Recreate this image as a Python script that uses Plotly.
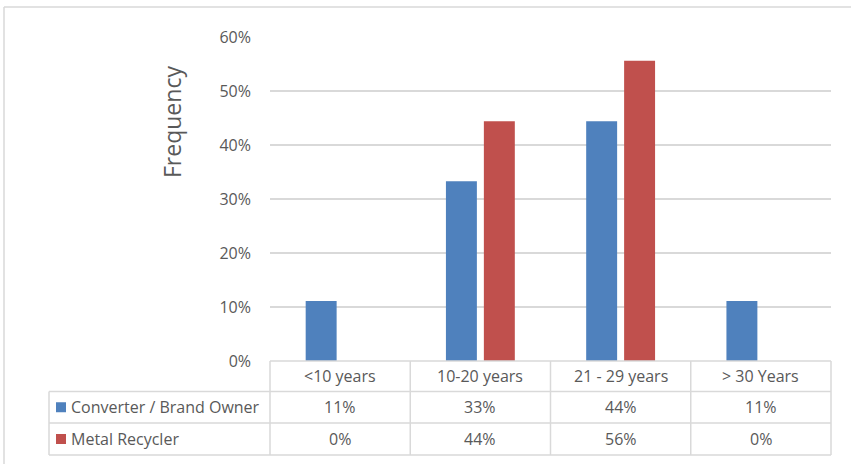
import plotly.graph_objects as go

categories = ["<10 years", "10-20 years", "21 - 29 years", "> 30 Years"]
series_names = ["Converter / Brand Owner", "Metal Recycler"]
converter = [0.111, 0.333, 0.444, 0.111]
recycler = [0.0, 0.444, 0.556, 0.0]
colors = ["#4f81bd", "#c0504d"]
tick_vals = [0, 0.1, 0.2, 0.3, 0.4, 0.5, 0.6]

W, H = 851, 464
L, R, T, B = 270, 831, 37, 361
FONT = "Open Sans"
TXT = "#595959"
GRID = "#d9d9d9"
FS = 16

def px(x):
    return (x - L) / (R - L)

def py(y):
    return (B - y) / (B - T)

fig = go.Figure()
for name, vals, col in zip(series_names, [converter, recycler], colors):
    fig.add_trace(go.Bar(x=categories, y=vals, name=name, marker_color=col,
                         marker_line_width=0, showlegend=False))

shapes = []
annos = []
line = dict(color=GRID, width=1.5)
# outer chart border
shapes.append(dict(type="line", xref="paper", yref="paper", x0=px(4), x1=px(851), y0=py(7), y1=py(7),
                   line=dict(color="#d9d9d9", width=1.5)))
shapes.append(dict(type="line", xref="paper", yref="paper", x0=px(4), x1=px(4), y0=py(7), y1=py(464),
                   line=dict(color="#d9d9d9", width=1.5)))

# data table
row_y = [361, 391.5, 423, 455]
col_x = [L + i * (R - L) / len(categories) for i in range(len(categories) + 1)]
label_x0 = 49
for i, yv in enumerate(row_y):
    x0 = L if i == 0 else label_x0
    shapes.append(dict(type="line", xref="paper", yref="paper", x0=px(x0), x1=px(R), y0=py(yv), y1=py(yv), line=line))
for xv in col_x:
    shapes.append(dict(type="line", xref="paper", yref="paper", x0=px(xv), x1=px(xv), y0=py(row_y[0]), y1=py(row_y[-1]), line=line))
shapes.append(dict(type="line", xref="paper", yref="paper", x0=px(label_x0), x1=px(label_x0), y0=py(row_y[1]), y1=py(row_y[-1]), line=line))

def fmt(v):
    return f"{round(v * 100):.0f}%"

for j, c in enumerate(categories):
    cx = (col_x[j] + col_x[j + 1]) / 2
    annos.append(dict(xref="paper", yref="paper", x=px(cx), y=py((row_y[0] + row_y[1]) / 2), text=c,
                      showarrow=False, xanchor="center", yanchor="middle", font=dict(family=FONT, size=FS, color=TXT)))
    for r, vals in enumerate([converter, recycler]):
        cy = (row_y[r + 1] + row_y[r + 2]) / 2
        annos.append(dict(xref="paper", yref="paper", x=px(cx), y=py(cy), text=fmt(vals[j]),
                          showarrow=False, xanchor="center", yanchor="middle", font=dict(family=FONT, size=FS, color=TXT)))

for r, (name, col) in enumerate(zip(series_names, colors)):
    cy = (row_y[r + 1] + row_y[r + 2]) / 2
    shapes.append(dict(type="rect", xref="paper", yref="paper", x0=px(56), x1=px(66), y0=py(cy - 5), y1=py(cy + 5),
                       fillcolor=col, line=dict(width=0)))
    annos.append(dict(xref="paper", yref="paper", x=px(69), y=py(cy), text=name,
                      showarrow=False, xanchor="left", yanchor="middle", font=dict(family=FONT, size=FS, color=TXT)))

annos.append(dict(xref="paper", yref="paper", x=px(172), y=py(122), text="Frequency", textangle=-90,
                  showarrow=False, xanchor="center", yanchor="middle", font=dict(family=FONT, size=23, color=TXT)))

fig.update_layout(
    width=W, height=H,
    margin=dict(l=L, r=W - R, t=T, b=H - B, pad=0),
    paper_bgcolor="white", plot_bgcolor="white",
    barmode="group", bargap=0.459, bargroupgap=0.184,
    shapes=shapes, annotations=annos,
    xaxis=dict(showticklabels=False, showgrid=False, zeroline=False, showline=False, ticks=""),
    yaxis=dict(range=[0, 0.6], tickvals=tick_vals, tickformat=".0%", showgrid=True, gridcolor=GRID, gridwidth=1.5,
               zeroline=False, showline=False, ticks="", ticklabelstandoff=18,
               tickfont=dict(family=FONT, size=FS, color=TXT)),
    font=dict(family=FONT, color=TXT),
)

fig.write_html("out.html")
